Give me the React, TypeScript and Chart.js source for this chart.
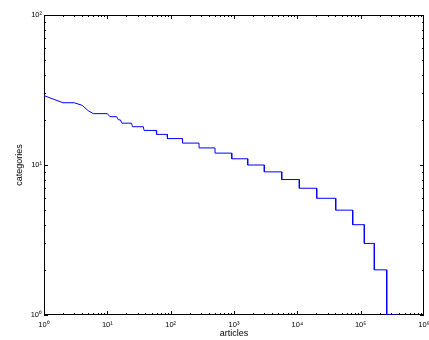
import React, { useEffect, useRef } from 'react';
import { Chart, registerables } from 'chart.js';

Chart.register(...registerables);

// number of categories (step levels) and the last article rank holding that level
const categoryLevels = [29, 26, 25, 23, 22, 21, 20, 19, 18, 17, 16, 15, 14, 13, 12, 11, 10, 9, 8, 7, 6, 5, 4, 3, 2, 1];
const lastArticleRank = [1, 3, 4, 5, 10, 14, 16, 24, 37, 59, 88, 153, 280, 501, 920, 1645, 3010, 5670, 10750, 20230, 40360, 74860, 114200, 164300, 257800, 393300];

const xTickValues = [1, 10, 100, 1000, 10000, 100000, 1000000];
const yTickValues = [1, 10, 100];
const superscripts = ['⁰', '¹', '²', '³', '⁴', '⁵', '⁶'];

const FONT = '"Liberation Sans", Arial, Helvetica, sans-serif';

const powLabel = (v: number) => '10' + superscripts[Math.round(Math.log10(v))];

const boxPlugin = {
  id: 'matlabBox',
  beforeDatasetsDraw(chart: any) {
    const { ctx, chartArea, scales } = chart;
    const { left, right, top, bottom } = chartArea;
    const xs = scales.x;
    const ys = scales.y;
    ctx.save();
    ctx.strokeStyle = '#000';
    ctx.lineWidth = 1;
    ctx.beginPath();
    // x ticks (bottom and top, inward)
    for (let d = 0; d < 6; d++) {
      for (let m = 1; m <= 9; m++) {
        const v = Math.pow(10, d) * m;
        const px = Math.round(xs.getPixelForValue(v)) + 0.5;
        const len = m === 1 ? 4 : 2;
        ctx.moveTo(px, bottom);
        ctx.lineTo(px, bottom - len);
        ctx.moveTo(px, top);
        ctx.lineTo(px, top + len);
      }
    }
    // y ticks (left and right, inward)
    for (let d = 0; d < 2; d++) {
      for (let m = 1; m <= 9; m++) {
        const v = Math.pow(10, d) * m;
        const py = Math.round(ys.getPixelForValue(v)) + 0.5;
        const len = m === 1 ? 4 : 2;
        ctx.moveTo(left, py);
        ctx.lineTo(left + len, py);
        ctx.moveTo(right, py);
        ctx.lineTo(right - len, py);
      }
    }
    ctx.stroke();
    ctx.strokeRect(left + 0.5, top + 0.5, right - left - 1, bottom - top - 1);
    ctx.restore();
  },
};

export default function App() {
  const canvasRef = useRef<HTMLCanvasElement | null>(null);

  useEffect(() => {
    const canvas = canvasRef.current;
    if (!canvas) return;

    const points: { x: number; y: number }[] = [];
    let start = 1;
    categoryLevels.forEach((lv, i) => {
      const end = lastArticleRank[i];
      points.push({ x: start, y: lv });
      if (end !== start) points.push({ x: end, y: lv });
      start = end + 1;
    });

    const chart = new Chart(canvas, {
      type: 'line',
      data: {
        datasets: [
          {
            data: points,
            borderColor: '#0000ff',
            borderWidth: 1,
            pointRadius: 0,
            tension: 0,
            fill: false,
          },
        ],
      },
      options: {
        responsive: false,
        animation: false,
        devicePixelRatio: 1,
        layout: { padding: { top: 15, right: 5, left: 0, bottom: 0 } },
        plugins: {
          legend: { display: false },
          tooltip: { enabled: false },
        },
        scales: {
          x: {
            type: 'logarithmic',
            position: 'bottom',
            min: 1,
            max: 1000000,
            afterBuildTicks: (s: any) => {
              s.ticks = xTickValues.map((v) => ({ value: v }));
            },
            afterFit: (s: any) => {
              s.height = 25;
              s.paddingLeft = 0;
              s.paddingRight = 0;
            },
            grid: { display: false, drawTicks: false },
            border: { display: false },
            ticks: {
              autoSkip: false,
              maxRotation: 0,
              padding: 5,
              color: '#000',
              font: { family: FONT, size: 7.5 },
              callback: (v: any) => powLabel(Number(v)),
            },
            title: {
              display: true,
              text: 'articles',
              color: '#000',
              font: { family: FONT, size: 9 },
              padding: { top: 0, bottom: 1 },
            },
          },
          y: {
            type: 'logarithmic',
            position: 'left',
            min: 1,
            max: 100,
            afterBuildTicks: (s: any) => {
              s.ticks = yTickValues.map((v) => ({ value: v }));
            },
            afterFit: (s: any) => {
              s.width = 44;
              s.paddingTop = 0;
              s.paddingBottom = 0;
            },
            grid: { display: false, drawTicks: false },
            border: { display: false },
            ticks: {
              autoSkip: false,
              padding: 2,
              color: '#000',
              font: { family: FONT, size: 7.5 },
              callback: (v: any) => powLabel(Number(v)),
            },
            title: {
              display: true,
              text: 'categories',
              color: '#000',
              font: { family: FONT, size: 9 },
              padding: { top: 14.5, bottom: 0 },
            },
          },
        },
      },
      plugins: [boxPlugin],
    } as any);

    return () => chart.destroy();
  }, []);

  return (
    <div style={{ position: 'absolute', left: 0, top: 0, width: 429, height: 340, background: '#fff' }}>
      <canvas ref={canvasRef} width={429} height={340} style={{ display: 'block' }} />
    </div>
  );
}
